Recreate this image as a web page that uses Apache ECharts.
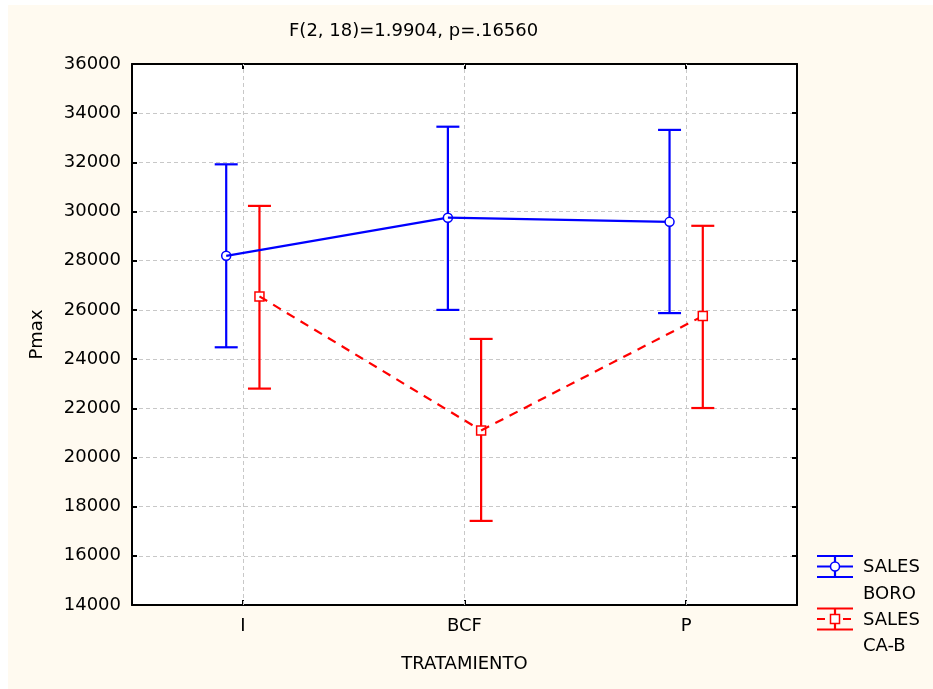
<!DOCTYPE html>
<html>
<head>
<meta charset="utf-8">
<script src="https://cdn.jsdelivr.net/npm/echarts@6/dist/echarts.min.js"></script>
<style>
html,body{margin:0;padding:0;background:#ffffff;}
#chart{width:933px;height:689px;}
</style>
</head>
<body>
<div id="chart"></div>
<script>
// ---- data ----
const categories = ['I', 'BCF', 'P'];
const boroMean  = [28200, 29750, 29580];
const boroLow   = [24480, 26000, 25870];
const boroHigh  = [31920, 33450, 33320];
const cabMean   = [26550, 21100, 25750];
const cabLow    = [22800, 17420, 22010];
const cabHigh   = [30230, 24820, 29420];
const yTicks = {min: 14000, max: 36000, interval: 2000};
const titleText = 'F(2, 18)=1.9904, p=.16560';
const seriesNames = ['SALES\nBORO', 'SALES\nCA-B'];

const FONT = '"DejaVu Sans", sans-serif';
const FS = 18;
const BLUE = '#0000ff';
const RED = '#ff0000';

function makeRenderer(means, color, offsetFrac, marker, dash) {
  return function (params, api) {
    const i = params.dataIndex;
    const bw = api.size([1, 0])[0];
    const dx = bw * offsetFrac;
    const p = api.coord([api.value(0), api.value(1)]);
    const lo = api.coord([api.value(0), api.value(2)]);
    const hi = api.coord([api.value(0), api.value(3)]);
    const x = p[0] + dx;
    const children = [];
    if (i > 0) {
      const q = api.coord([i - 1, means[i - 1]]);
      children.push({
        type: 'line',
        shape: {x1: q[0] + dx, y1: q[1], x2: x, y2: p[1]},
        style: {stroke: color, lineWidth: 2.2, lineDash: dash || null}
      });
    }
    const cap = 11.5;
    children.push({type: 'line', shape: {x1: x, y1: lo[1], x2: x, y2: hi[1]}, style: {stroke: color, lineWidth: 2.2}});
    children.push({type: 'line', shape: {x1: x - cap, y1: lo[1], x2: x + cap, y2: lo[1]}, style: {stroke: color, lineWidth: 2.2}});
    children.push({type: 'line', shape: {x1: x - cap, y1: hi[1], x2: x + cap, y2: hi[1]}, style: {stroke: color, lineWidth: 2.2}});
    if (marker === 'circle') {
      children.push({type: 'circle', shape: {cx: x, cy: p[1], r: 4.5}, style: {fill: '#fff', stroke: color, lineWidth: 1.5}});
    } else {
      children.push({type: 'rect', shape: {x: x - 4.5, y: p[1] - 4.5, width: 9, height: 9}, style: {fill: '#fff', stroke: color, lineWidth: 1.5}});
    }
    return {type: 'group', children: children};
  };
}

function toData(m, l, h) {
  return categories.map((c, i) => [i, m[i], l[i], h[i]]);
}

// legend graphics
function legendIcon(x, y, color, marker, dashed) {
  const w = 36, c = x + w / 2, items = [];
  items.push({type: 'line', shape: {x1: x, y1: y - 10.5, x2: x + w, y2: y - 10.5}, style: {stroke: color, lineWidth: 2.2}});
  items.push({type: 'line', shape: {x1: x, y1: y + 10.5, x2: x + w, y2: y + 10.5}, style: {stroke: color, lineWidth: 2.2}});
  items.push({type: 'line', shape: {x1: c, y1: y - 10.5, x2: c, y2: y + 10.5}, style: {stroke: color, lineWidth: 2.2}});
  items.push({type: 'line', shape: {x1: x, y1: y, x2: x + w, y2: y}, style: {stroke: color, lineWidth: 2.2, lineDash: dashed ? [8, 5] : null}});
  if (marker === 'circle') {
    items.push({type: 'circle', shape: {cx: c, cy: y, r: 4.5}, style: {fill: '#fff', stroke: color, lineWidth: 1.5}});
  } else {
    items.push({type: 'rect', shape: {x: c - 4.5, y: y - 4.5, width: 9, height: 9}, style: {fill: '#fff', stroke: color, lineWidth: 1.5}});
  }
  return items;
}
function legendText(x, y, t) {
  return {type: 'text', x: x, y: y, style: {text: t, font: FS + 'px ' + FONT, fill: '#000', verticalAlign: 'middle', align: 'left'}};
}

const chart = echarts.init(document.getElementById('chart'), null, {renderer: 'canvas'});

const axisLine = {show: true, lineStyle: {color: '#000', width: 2}};
const option = {
  backgroundColor: 'transparent',
  animation: false,
  title: {
    text: titleText, left: 289, top: 22, padding: 0,
    textStyle: {fontFamily: FONT, fontSize: FS, fontWeight: 'normal', color: '#000'}
  },
  grid: {left: 132, top: 64, width: 665, height: 541, show: true, backgroundColor: '#ffffff', borderWidth: 0, containLabel: false},
  xAxis: [{
    type: 'category', data: categories, position: 'bottom', boundaryGap: true,
    axisLine: axisLine,
    axisTick: {show: true, inside: true, alignWithLabel: true, length: 5, lineStyle: {color: '#000', width: 2}},
    axisLabel: {margin: 12, fontFamily: FONT, fontSize: FS, color: '#000'},
    splitLine: {show: false},
    name: 'TRATAMIENTO', nameLocation: 'middle', nameGap: 50,
    nameTextStyle: {fontFamily: FONT, fontSize: FS, color: '#000'}
  }, {
    type: 'category', data: categories, position: 'top', boundaryGap: true,
    axisLine: axisLine,
    axisTick: {show: true, inside: true, alignWithLabel: true, length: 5, lineStyle: {color: '#000', width: 2}},
    axisLabel: {show: false}, splitLine: {show: false}
  }],
  yAxis: [{
    type: 'value', min: yTicks.min, max: yTicks.max, interval: yTicks.interval, position: 'left',
    axisLine: axisLine,
    axisTick: {show: true, inside: true, length: 5, lineStyle: {color: '#000', width: 2}},
    axisLabel: {margin: 11, fontFamily: FONT, fontSize: FS, color: '#000', formatter: v => String(v)},
    splitLine: {show: true, lineStyle: {color: '#c8c8c8', type: [4, 3], width: 1}},
    name: 'Pmax', nameLocation: 'middle', nameGap: 86,
    nameTextStyle: {fontFamily: FONT, fontSize: FS, color: '#000'}
  }, {
    type: 'value', min: yTicks.min, max: yTicks.max, interval: yTicks.interval, position: 'right',
    axisLine: axisLine,
    axisTick: {show: true, inside: true, length: 5, lineStyle: {color: '#000', width: 2}},
    axisLabel: {show: false}, splitLine: {show: false}
  }],
  graphic: [
    {type: 'rect', z: -100, shape: {x: 8, y: 5, width: 925, height: 684}, style: {fill: '#fffaf0'}},
    {type: 'group', children: legendIcon(817, 566.5, BLUE, 'circle', false)},
    {type: 'group', children: legendIcon(817, 619, RED, 'square', true)},
    legendText(863, 567, 'SALES'),
    legendText(863, 594, 'BORO'),
    legendText(863, 620, 'SALES'),
    legendText(863, 646, 'CA-B')
  ],
  series: [{
    name: seriesNames[0], type: 'custom', xAxisIndex: 0, yAxisIndex: 0,
    renderItem: makeRenderer(boroMean, BLUE, -0.075, 'circle', null),
    encode: {x: 0, y: [1, 2, 3]},
    data: toData(boroMean, boroLow, boroHigh),
    z: 5,
    markLine: {
      silent: true, symbol: 'none', label: {show: false}, z: 1,
      lineStyle: {color: '#c8c8c8', type: [4, 3], width: 1},
      data: categories.map(c => ({xAxis: c}))
    }
  }, {
    name: seriesNames[1], type: 'custom', xAxisIndex: 0, yAxisIndex: 0,
    renderItem: makeRenderer(cabMean, RED, 0.075, 'square', [9, 7]),
    encode: {x: 0, y: [1, 2, 3]},
    data: toData(cabMean, cabLow, cabHigh),
    z: 4
  }]
};
chart.setOption(option);
</script>
</body>
</html>
